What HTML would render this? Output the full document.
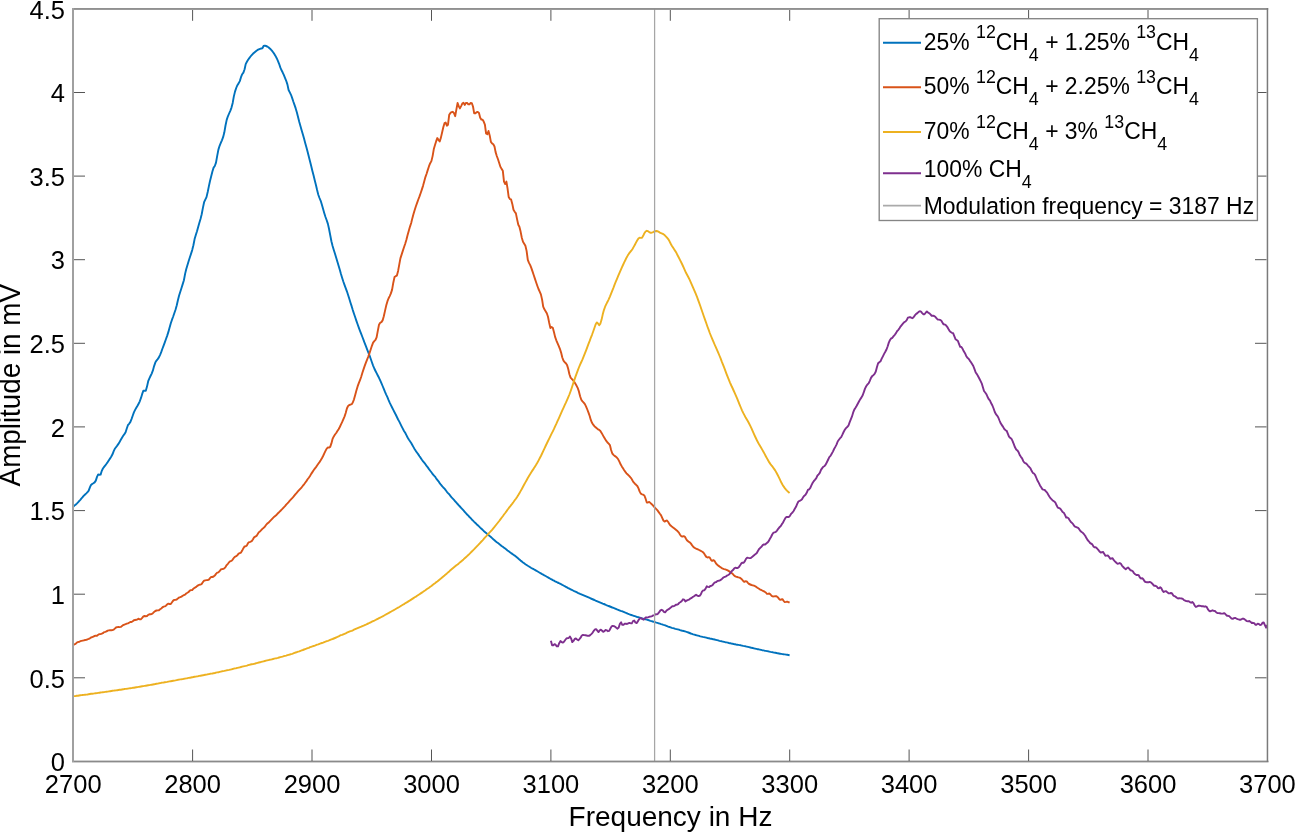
<!DOCTYPE html>
<html><head><meta charset="utf-8"><style>
html,body{margin:0;padding:0;background:#fff;}
body{width:1295px;height:832px;overflow:hidden;font-family:"Liberation Sans", sans-serif;}
svg{display:block;will-change:transform;}
</style></head><body>
<svg width="1295" height="832" viewBox="0 0 1295 832">
<defs><clipPath id="c"><rect x="73" y="9" width="1195" height="753"/></clipPath></defs>
<g clip-path="url(#c)" fill="none" stroke-width="1.9" stroke-linejoin="round">
<polyline stroke="#0072BD" points="73.2,506.8 74.4,505.6 75.6,504.7 76.8,503.6 78.0,502.4 79.1,501.1 80.3,499.8 81.5,498.4 82.7,497.0 83.9,495.7 85.1,494.5 86.3,493.4 87.5,492.2 88.7,490.6 89.9,487.4 91.0,484.9 92.2,483.9 93.4,483.2 94.6,482.4 95.8,480.6 97.0,476.9 98.2,474.4 99.4,474.8 100.6,474.6 101.8,470.8 102.9,468.5 104.1,466.9 105.3,465.4 106.5,463.8 107.7,462.1 108.9,460.2 110.1,458.4 111.3,456.5 112.5,454.3 113.7,451.2 114.8,448.8 116.0,447.2 117.2,445.6 118.4,443.9 119.6,441.9 120.8,439.8 122.0,437.7 123.2,435.8 124.4,434.1 125.6,432.3 126.7,428.7 127.9,425.2 129.1,423.8 130.3,422.1 131.5,419.1 132.7,415.7 133.9,412.4 135.1,409.9 136.3,407.8 137.5,405.8 138.6,403.7 139.8,401.3 141.0,397.9 142.2,393.9 143.4,390.7 144.6,390.8 145.8,390.8 147.0,386.6 148.2,381.2 149.4,378.3 150.5,376.0 151.7,373.6 152.9,370.4 154.1,366.1 155.3,362.6 156.5,360.6 157.7,359.1 158.9,357.4 160.1,354.8 161.3,351.9 162.4,348.8 163.6,345.6 164.8,342.4 166.0,339.0 167.2,335.6 168.4,331.9 169.6,327.5 170.8,323.2 172.0,319.7 173.2,316.5 174.3,313.2 175.5,309.8 176.7,305.5 177.9,300.3 179.1,295.5 180.3,291.7 181.5,288.0 182.7,284.1 183.9,280.3 185.1,273.9 186.2,269.2 187.4,265.3 188.6,261.3 189.8,257.5 191.0,253.9 192.2,250.1 193.4,245.3 194.6,239.1 195.8,235.0 197.0,231.2 198.1,227.2 199.3,223.1 200.5,218.9 201.7,214.3 202.9,207.9 204.1,202.2 205.3,199.6 206.5,197.1 207.7,192.0 208.9,186.1 210.0,181.0 211.2,176.2 212.4,171.5 213.6,167.6 214.8,166.0 216.0,162.6 217.2,155.8 218.4,149.6 219.6,145.8 220.8,142.9 221.9,140.3 223.1,137.2 224.3,132.6 225.5,125.5 226.7,119.9 227.9,116.3 229.1,113.5 230.3,110.8 231.5,107.6 232.7,102.9 233.8,96.6 235.0,91.6 236.2,88.0 237.4,85.2 238.6,83.4 239.8,81.1 241.0,77.2 242.2,74.2 243.4,72.6 244.6,69.2 245.7,64.1 246.9,61.8 248.1,59.8 249.3,58.1 250.5,56.5 251.7,55.1 252.9,53.8 254.1,52.7 255.3,51.7 256.5,50.7 257.6,49.9 258.8,49.3 260.0,48.8 261.2,48.5 262.4,48.3 263.6,46.0 264.8,45.6 266.0,46.0 267.2,46.5 268.4,47.2 269.5,48.2 270.7,49.3 271.9,50.6 273.1,52.2 274.3,53.9 275.5,55.9 276.7,58.2 277.9,60.8 279.1,63.8 280.3,67.4 281.4,70.0 282.6,72.3 283.8,74.9 285.0,77.8 286.2,80.8 287.4,84.4 288.6,90.0 289.8,92.4 291.0,94.8 292.2,98.1 293.3,101.5 294.5,104.9 295.7,108.4 296.9,112.4 298.1,117.2 299.3,122.0 300.5,126.2 301.7,130.4 302.9,134.5 304.1,138.8 305.2,143.0 306.4,147.3 307.6,151.8 308.8,156.5 310.0,161.3 311.2,166.1 312.4,170.9 313.6,175.6 314.8,180.4 316.0,185.2 317.1,190.0 318.3,194.7 319.5,198.0 320.7,200.8 321.9,204.8 323.1,209.1 324.3,213.2 325.5,217.0 326.7,220.3 327.9,223.9 329.0,228.8 330.2,235.0 331.4,241.2 332.6,245.9 333.8,249.9 335.0,253.8 336.2,257.7 337.4,261.7 338.6,265.7 339.8,269.7 340.9,273.7 342.1,277.7 343.3,281.5 344.5,284.9 345.7,288.1 346.9,291.3 348.1,295.0 349.3,298.8 350.5,302.7 351.7,306.4 352.8,310.1 354.0,313.8 355.2,317.3 356.4,320.9 357.6,324.3 358.8,327.6 360.0,330.8 361.2,333.9 362.4,337.0 363.6,340.1 364.7,343.2 365.9,346.2 367.1,349.3 368.3,352.3 369.5,355.4 370.7,358.8 371.9,362.2 373.1,365.6 374.3,368.5 375.5,371.0 376.6,373.2 377.8,375.5 379.0,377.8 380.2,380.4 381.4,383.2 382.6,386.0 383.8,388.9 385.0,391.9 386.2,394.6 387.4,397.1 388.5,399.9 389.7,402.6 390.9,405.1 392.1,407.5 393.3,409.9 394.5,412.2 395.7,414.5 396.9,417.0 398.1,419.5 399.3,421.6 400.4,423.8 401.6,426.3 402.8,428.7 404.0,431.0 405.2,432.8 406.4,435.1 407.6,437.5 408.8,439.5 410.0,441.2 411.2,443.0 412.3,445.0 413.5,447.1 414.7,449.2 415.9,451.1 417.1,452.7 418.3,454.4 419.5,456.2 420.7,457.9 421.9,459.8 423.1,461.4 424.2,462.7 425.4,464.2 426.6,465.9 427.8,467.4 429.0,469.1 430.2,470.7 431.4,472.3 432.6,474.0 433.8,475.3 435.0,476.6 436.1,478.3 437.3,479.8 438.5,481.3 439.7,483.1 440.9,484.7 442.1,486.1 443.3,487.5 444.5,488.7 445.7,490.2 446.9,491.8 448.0,493.1 449.2,494.2 450.4,495.9 451.6,497.4 452.8,498.6 454.0,499.9 455.2,501.3 456.4,502.7 457.6,504.0 458.8,505.3 459.9,506.5 461.1,507.8 462.3,509.1 463.5,510.4 464.7,511.8 465.9,513.2 467.1,514.5 468.3,515.7 469.5,517.0 470.7,518.2 471.8,519.5 473.0,520.7 474.2,521.9 475.4,523.0 476.6,524.2 477.8,525.3 479.0,526.4 480.2,527.6 481.4,528.7 482.6,529.8 483.7,530.9 484.9,531.9 486.1,532.9 487.3,534.0 488.5,535.0 489.7,536.1 490.9,537.0 492.1,538.1 493.3,539.2 494.5,540.2 495.6,541.2 496.8,542.2 498.0,543.1 499.2,544.0 500.4,544.9 501.6,545.9 502.8,546.8 504.0,547.7 505.2,548.6 506.4,549.5 507.5,550.4 508.7,551.3 509.9,552.2 511.1,553.1 512.3,553.9 513.5,554.8 514.7,555.6 515.9,556.5 517.1,557.5 518.3,558.5 519.4,559.6 520.6,560.6 521.8,561.4 523.0,562.4 524.2,563.3 525.4,564.2 526.6,565.0 527.8,565.8 529.0,566.5 530.2,567.3 531.3,568.0 532.5,568.6 533.7,569.2 534.9,569.9 536.1,570.6 537.3,571.3 538.5,572.0 539.7,572.7 540.9,573.4 542.1,574.1 543.2,574.7 544.4,575.4 545.6,576.0 546.8,576.7 548.0,577.4 549.2,578.1 550.4,578.8 551.6,579.4 552.8,580.1 554.0,580.7 555.1,581.3 556.3,581.9 557.5,582.5 558.7,583.0 559.9,583.6 561.1,584.2 562.3,584.9 563.5,585.5 564.7,586.2 565.9,586.8 567.0,587.4 568.2,588.1 569.4,588.7 570.6,589.3 571.8,589.9 573.0,590.5 574.2,591.1 575.4,591.6 576.6,592.2 577.8,592.8 578.9,593.3 580.1,593.9 581.3,594.4 582.5,594.9 583.7,595.4 584.9,595.9 586.1,596.4 587.3,596.9 588.5,597.4 589.7,597.9 590.8,598.5 592.0,599.0 593.2,599.5 594.4,600.0 595.6,600.6 596.8,601.1 598.0,601.6 599.2,602.1 600.4,602.6 601.6,603.1 602.7,603.6 603.9,604.0 605.1,604.5 606.3,605.1 607.5,605.6 608.7,606.0 609.9,606.5 611.1,607.0 612.3,607.5 613.5,607.9 614.6,608.3 615.8,608.8 617.0,609.4 618.2,609.8 619.4,610.3 620.6,610.8 621.8,611.2 623.0,611.7 624.2,612.2 625.4,612.7 626.5,613.1 627.7,613.7 628.9,614.2 630.1,614.6 631.3,615.0 632.5,615.4 633.7,615.8 634.9,616.2 636.1,616.6 637.3,617.0 638.4,617.2 639.6,617.6 640.8,618.0 642.0,618.3 643.2,618.7 644.4,619.0 645.6,619.3 646.8,619.7 648.0,620.0 649.2,620.4 650.3,620.8 651.5,621.1 652.7,621.5 653.9,621.9 655.1,622.2 656.3,622.6 657.5,622.9 658.7,623.3 659.9,623.7 661.1,624.1 662.2,624.4 663.4,624.8 664.6,625.1 665.8,625.6 667.0,626.1 668.2,626.6 669.4,627.0 670.6,627.4 671.8,627.8 673.0,628.1 674.1,628.4 675.3,628.8 676.5,629.1 677.7,629.4 678.9,629.7 680.1,630.2 681.3,630.5 682.5,630.8 683.7,631.0 684.9,631.3 686.0,631.7 687.2,632.1 688.4,632.5 689.6,633.0 690.8,633.5 692.0,633.9 693.2,634.3 694.4,634.6 695.6,635.0 696.8,635.3 697.9,635.6 699.1,635.9 700.3,636.3 701.5,636.6 702.7,636.9 703.9,637.1 705.1,637.4 706.3,637.7 707.5,638.0 708.7,638.2 709.8,638.5 711.0,638.7 712.2,639.0 713.4,639.3 714.6,639.5 715.8,639.8 717.0,640.1 718.2,640.4 719.4,640.8 720.6,641.1 721.7,641.3 722.9,641.6 724.1,641.9 725.3,642.2 726.5,642.4 727.7,642.7 728.9,643.0 730.1,643.2 731.3,643.5 732.5,643.7 733.6,644.0 734.8,644.2 736.0,644.5 737.2,644.7 738.4,644.9 739.6,645.1 740.8,645.3 742.0,645.6 743.2,645.9 744.4,646.1 745.5,646.3 746.7,646.6 747.9,646.9 749.1,647.2 750.3,647.5 751.5,647.8 752.7,648.0 753.9,648.3 755.1,648.6 756.3,648.9 757.4,649.2 758.6,649.3 759.8,649.6 761.0,649.9 762.2,650.2 763.4,650.4 764.6,650.7 765.8,650.9 767.0,651.1 768.2,651.3 769.3,651.6 770.5,651.9 771.7,652.1 772.9,652.3 774.1,652.6 775.3,652.8 776.5,653.0 777.7,653.3 778.9,653.5 780.1,653.7 781.2,653.9 782.4,654.1 783.6,654.3 784.8,654.4 786.0,654.6 787.2,654.8 788.4,655.0 789.6,655.2"/>
<polyline stroke="#D95319" points="73.2,645.1 74.4,644.3 75.6,643.8 76.8,642.6 78.0,642.0 79.1,641.9 80.3,641.2 81.5,640.9 82.7,640.6 83.9,640.3 85.1,640.0 86.3,639.9 87.5,639.3 88.7,638.9 89.9,638.3 91.0,637.5 92.2,637.1 93.4,636.7 94.6,635.9 95.8,635.6 97.0,635.7 98.2,634.8 99.4,634.1 100.6,634.1 101.8,633.7 102.9,633.2 104.1,632.1 105.3,631.9 106.5,631.4 107.7,630.6 108.9,630.4 110.1,630.2 111.3,630.3 112.5,630.1 113.7,629.7 114.8,628.6 116.0,627.5 117.2,627.1 118.4,626.9 119.6,627.1 120.8,626.9 122.0,626.0 123.2,625.1 124.4,624.6 125.6,624.2 126.7,623.7 127.9,623.4 129.1,622.7 130.3,622.0 131.5,622.0 132.7,621.2 133.9,620.2 135.1,620.0 136.3,619.8 137.5,619.3 138.6,618.7 139.8,619.4 141.0,619.2 142.2,617.9 143.4,616.4 144.6,616.0 145.8,616.2 147.0,616.0 148.2,614.9 149.4,614.3 150.5,614.3 151.7,614.1 152.9,613.2 154.1,611.9 155.3,611.0 156.5,610.5 157.7,610.4 158.9,610.2 160.1,609.2 161.3,608.5 162.4,607.4 163.6,606.6 164.8,606.4 166.0,605.7 167.2,604.3 168.4,603.7 169.6,604.0 170.8,604.0 172.0,602.3 173.2,600.6 174.3,599.9 175.5,599.9 176.7,599.5 177.9,598.4 179.1,597.5 180.3,597.2 181.5,596.6 182.7,595.8 183.9,595.1 185.1,594.6 186.2,593.5 187.4,592.8 188.6,592.0 189.8,590.7 191.0,590.1 192.2,590.1 193.4,588.7 194.6,587.8 195.8,587.2 197.0,586.1 198.1,585.4 199.3,584.7 200.5,584.6 201.7,584.0 202.9,582.1 204.1,580.7 205.3,580.4 206.5,580.1 207.7,580.0 208.9,579.6 210.0,578.1 211.2,576.9 212.4,577.0 213.6,576.5 214.8,575.6 216.0,573.9 217.2,572.7 218.4,572.4 219.6,571.2 220.8,569.5 221.9,569.1 223.1,569.0 224.3,568.4 225.5,567.1 226.7,565.1 227.9,563.8 229.1,562.2 230.3,561.1 231.5,560.8 232.7,559.6 233.8,557.9 235.0,556.8 236.2,556.1 237.4,555.3 238.6,553.6 239.8,553.1 241.0,552.6 242.2,550.6 243.4,548.2 244.6,546.4 245.7,546.3 246.9,545.4 248.1,543.0 249.3,542.1 250.5,541.8 251.7,541.1 252.9,539.5 254.1,537.3 255.3,536.6 256.5,535.9 257.6,534.2 258.8,532.3 260.0,531.5 261.2,530.1 262.4,528.8 263.6,527.9 264.8,526.8 266.0,525.0 267.2,523.6 268.4,522.8 269.5,521.6 270.7,520.3 271.9,519.1 273.1,517.9 274.3,516.7 275.5,515.7 276.7,514.7 277.9,513.3 279.1,512.2 280.3,511.0 281.4,509.8 282.6,508.6 283.8,507.3 285.0,506.1 286.2,504.6 287.4,503.4 288.6,502.1 289.8,500.7 291.0,499.4 292.2,498.1 293.3,496.8 294.5,495.3 295.7,494.0 296.9,492.6 298.1,491.2 299.3,489.9 300.5,488.6 301.7,487.3 302.9,485.7 304.1,484.3 305.2,482.7 306.4,481.1 307.6,479.3 308.8,477.7 310.0,476.0 311.2,473.9 312.4,472.1 313.6,470.3 314.8,468.6 316.0,467.1 317.1,465.5 318.3,463.7 319.5,462.1 320.7,460.3 321.9,458.3 323.1,456.0 324.3,453.4 325.5,450.9 326.7,448.6 327.9,447.5 329.0,447.6 330.2,446.9 331.4,443.4 332.6,438.8 333.8,436.4 335.0,434.5 336.2,433.0 337.4,431.1 338.6,429.2 339.8,427.0 340.9,424.6 342.1,422.2 343.3,419.4 344.5,416.6 345.7,413.0 346.9,408.5 348.1,405.9 349.3,405.0 350.5,404.6 351.7,404.2 352.8,402.5 354.0,399.3 355.2,395.0 356.4,390.5 357.6,386.4 358.8,383.1 360.0,380.2 361.2,376.7 362.4,372.8 363.6,369.1 364.7,365.9 365.9,362.7 367.1,359.6 368.3,356.5 369.5,353.1 370.7,349.5 371.9,345.8 373.1,342.6 374.3,341.1 375.5,339.9 376.6,337.3 377.8,330.8 379.0,324.8 380.2,322.8 381.4,322.1 382.6,320.4 383.8,316.2 385.0,310.9 386.2,305.6 387.4,301.4 388.5,298.5 389.7,296.1 390.9,293.4 392.1,289.6 393.3,282.7 394.5,277.1 395.7,276.2 396.9,275.6 398.1,270.9 399.3,264.3 400.4,258.4 401.6,254.6 402.8,250.9 404.0,247.3 405.2,243.7 406.4,239.7 407.6,235.1 408.8,230.8 410.0,226.6 411.2,223.0 412.3,218.4 413.5,214.1 414.7,210.1 415.9,206.3 417.1,202.9 418.3,199.5 419.5,196.4 420.7,193.0 421.9,189.4 423.1,185.6 424.2,181.6 425.4,177.1 426.6,173.7 427.8,169.9 429.0,166.2 430.2,163.2 431.4,161.1 432.6,156.1 433.8,149.1 435.0,145.1 436.1,141.4 437.3,138.1 438.5,139.9 439.7,141.5 440.9,137.6 442.1,132.5 443.3,127.3 444.5,123.2 445.7,122.6 446.9,125.7 448.0,124.7 449.2,114.8 450.4,113.1 451.6,112.1 452.8,111.8 454.0,113.2 455.2,116.2 456.4,109.4 457.6,103.0 458.8,106.4 459.9,108.4 461.1,106.1 462.3,103.6 463.5,102.7 464.7,104.9 465.9,103.0 467.1,102.9 468.3,104.3 469.5,104.3 470.7,102.9 471.8,103.1 473.0,106.5 474.2,113.4 475.4,113.2 476.6,112.2 477.8,111.9 479.0,112.9 480.2,117.8 481.4,119.6 482.6,119.7 483.7,121.6 484.9,124.6 486.1,133.5 487.3,134.2 488.5,131.0 489.7,135.4 490.9,141.9 492.1,143.4 493.3,144.3 494.5,146.5 495.6,152.1 496.8,156.0 498.0,159.3 499.2,163.0 500.4,166.8 501.6,168.9 502.8,170.7 504.0,181.7 505.2,184.1 506.4,181.6 507.5,188.2 508.7,197.1 509.9,199.1 511.1,199.4 512.3,203.9 513.5,209.8 514.7,211.7 515.9,213.4 517.1,219.4 518.3,224.8 519.4,226.8 520.6,231.6 521.8,237.8 523.0,241.8 524.2,243.7 525.4,245.7 526.6,250.9 527.8,259.8 529.0,262.9 530.2,265.1 531.3,267.9 532.5,271.4 533.7,275.0 534.9,278.6 536.1,282.2 537.3,285.7 538.5,289.0 539.7,291.6 540.9,294.4 542.1,299.6 543.2,306.6 544.4,309.3 545.6,311.2 546.8,313.3 548.0,316.7 549.2,322.9 550.4,328.0 551.6,327.0 552.8,327.7 554.0,332.2 555.1,336.9 556.3,340.3 557.5,343.1 558.7,345.9 559.9,348.8 561.1,352.6 562.3,357.5 563.5,360.6 564.7,362.2 565.9,363.2 567.0,364.9 568.2,368.7 569.4,374.2 570.6,377.6 571.8,379.0 573.0,380.1 574.2,381.8 575.4,383.8 576.6,385.8 577.8,388.2 578.9,391.4 580.1,396.3 581.3,399.7 582.5,401.4 583.7,402.7 584.9,404.2 586.1,406.6 587.3,409.5 588.5,412.6 589.7,416.0 590.8,419.9 592.0,422.8 593.2,424.7 594.4,426.2 595.6,427.2 596.8,428.3 598.0,429.3 599.2,429.9 600.4,431.0 601.6,432.9 602.7,434.9 603.9,437.1 605.1,439.0 606.3,440.9 607.5,442.5 608.7,443.7 609.9,445.1 611.1,450.0 612.3,453.5 613.5,454.8 614.6,455.9 615.8,456.6 617.0,457.7 618.2,459.3 619.4,461.7 620.6,464.3 621.8,466.4 623.0,468.3 624.2,470.2 625.4,471.9 626.5,473.3 627.7,474.5 628.9,475.7 630.1,477.0 631.3,478.4 632.5,480.5 633.7,482.4 634.9,483.7 636.1,484.8 637.3,486.0 638.4,488.2 639.6,491.4 640.8,493.6 642.0,494.3 643.2,494.7 644.4,495.5 645.6,498.7 646.8,502.5 648.0,502.5 649.2,501.9 650.3,502.9 651.5,504.0 652.7,505.2 653.9,506.5 655.1,507.8 656.3,509.1 657.5,510.4 658.7,512.1 659.9,513.8 661.1,515.4 662.2,517.9 663.4,520.5 664.6,521.6 665.8,520.9 667.0,520.5 668.2,522.0 669.4,524.1 670.6,525.6 671.8,526.6 673.0,527.5 674.1,528.3 675.3,529.3 676.5,530.3 677.7,531.3 678.9,532.6 680.1,534.7 681.3,536.3 682.5,536.5 683.7,536.1 684.9,536.8 686.0,538.8 687.2,540.6 688.4,541.6 689.6,542.3 690.8,543.4 692.0,545.1 693.2,546.7 694.4,547.7 695.6,548.4 696.8,549.0 697.9,549.4 699.1,550.0 700.3,550.6 701.5,551.3 702.7,552.0 703.9,553.2 705.1,555.1 706.3,556.9 707.5,557.5 708.7,557.1 709.8,557.6 711.0,559.9 712.2,560.9 713.4,560.1 714.6,561.0 715.8,563.1 717.0,564.6 718.2,565.6 719.4,566.4 720.6,567.3 721.7,568.1 722.9,568.7 724.1,569.1 725.3,569.4 726.5,569.8 727.7,570.4 728.9,571.1 730.1,571.9 731.3,572.8 732.5,573.7 733.6,575.0 734.8,576.1 736.0,576.7 737.2,577.0 738.4,577.4 739.6,577.7 740.8,578.3 742.0,579.5 743.2,580.9 744.4,581.9 745.5,581.2 746.7,581.4 747.9,582.8 749.1,584.0 750.3,584.5 751.5,585.0 752.7,585.3 753.9,585.7 755.1,586.2 756.3,586.9 757.4,587.7 758.6,588.5 759.8,589.3 761.0,589.9 762.2,590.5 763.4,591.1 764.6,591.7 765.8,592.5 767.0,593.9 768.2,593.9 769.3,593.4 770.5,594.5 771.7,595.9 772.9,596.5 774.1,596.4 775.3,596.1 776.5,596.3 777.7,597.2 778.9,598.7 780.1,599.8 781.2,599.5 782.4,599.1 783.6,600.8 784.8,602.1 786.0,601.9 787.2,601.6 788.4,602.1 789.6,602.7"/>
<polyline stroke="#EDB120" points="73.2,696.3 74.4,696.1 75.6,696.0 76.8,695.8 78.0,695.7 79.1,695.5 80.3,695.3 81.5,695.1 82.7,695.0 83.9,694.9 85.1,694.7 86.3,694.6 87.5,694.5 88.7,694.2 89.9,694.0 91.0,693.8 92.2,693.8 93.4,693.6 94.6,693.4 95.8,693.2 97.0,693.1 98.2,692.9 99.4,692.7 100.6,692.5 101.8,692.4 102.9,692.2 104.1,692.1 105.3,691.9 106.5,691.7 107.7,691.6 108.9,691.4 110.1,691.2 111.3,691.0 112.5,690.8 113.7,690.6 114.8,690.5 116.0,690.4 117.2,690.2 118.4,690.0 119.6,689.8 120.8,689.7 122.0,689.5 123.2,689.3 124.4,689.0 125.6,688.9 126.7,688.8 127.9,688.6 129.1,688.4 130.3,688.2 131.5,688.1 132.7,687.8 133.9,687.7 135.1,687.5 136.3,687.3 137.5,687.1 138.6,686.9 139.8,686.7 141.0,686.5 142.2,686.3 143.4,686.1 144.6,685.9 145.8,685.7 147.0,685.5 148.2,685.3 149.4,685.1 150.5,684.9 151.7,684.7 152.9,684.5 154.1,684.3 155.3,684.0 156.5,683.8 157.7,683.6 158.9,683.3 160.1,683.1 161.3,682.8 162.4,682.6 163.6,682.5 164.8,682.3 166.0,682.1 167.2,681.9 168.4,681.6 169.6,681.4 170.8,681.2 172.0,681.0 173.2,680.8 174.3,680.6 175.5,680.4 176.7,680.1 177.9,679.8 179.1,679.6 180.3,679.4 181.5,679.3 182.7,679.1 183.9,678.8 185.1,678.6 186.2,678.4 187.4,678.2 188.6,677.9 189.8,677.8 191.0,677.5 192.2,677.3 193.4,677.0 194.6,676.8 195.8,676.6 197.0,676.4 198.1,676.2 199.3,675.9 200.5,675.7 201.7,675.5 202.9,675.3 204.1,675.0 205.3,674.8 206.5,674.6 207.7,674.3 208.9,674.1 210.0,673.8 211.2,673.6 212.4,673.5 213.6,673.2 214.8,673.0 216.0,672.6 217.2,672.4 218.4,672.3 219.6,671.9 220.8,671.6 221.9,671.3 223.1,671.1 224.3,670.9 225.5,670.6 226.7,670.3 227.9,670.1 229.1,669.9 230.3,669.6 231.5,669.3 232.7,669.0 233.8,668.7 235.0,668.4 236.2,668.2 237.4,667.9 238.6,667.6 239.8,667.3 241.0,667.0 242.2,666.7 243.4,666.4 244.6,666.1 245.7,665.9 246.9,665.6 248.1,665.2 249.3,664.8 250.5,664.5 251.7,664.3 252.9,664.1 254.1,663.8 255.3,663.5 256.5,663.1 257.6,662.8 258.8,662.5 260.0,662.3 261.2,661.9 262.4,661.6 263.6,661.3 264.8,661.0 266.0,660.7 267.2,660.4 268.4,660.1 269.5,659.8 270.7,659.6 271.9,659.3 273.1,659.0 274.3,658.7 275.5,658.4 276.7,658.2 277.9,657.9 279.1,657.5 280.3,657.2 281.4,656.9 282.6,656.6 283.8,656.2 285.0,655.9 286.2,655.6 287.4,655.2 288.6,654.8 289.8,654.5 291.0,654.1 292.2,653.8 293.3,653.4 294.5,652.9 295.7,652.5 296.9,652.1 298.1,651.7 299.3,651.3 300.5,650.8 301.7,650.4 302.9,650.0 304.1,649.5 305.2,649.1 306.4,648.7 307.6,648.2 308.8,647.8 310.0,647.2 311.2,646.8 312.4,646.4 313.6,646.0 314.8,645.6 316.0,645.1 317.1,644.7 318.3,644.3 319.5,643.8 320.7,643.4 321.9,643.0 323.1,642.6 324.3,642.1 325.5,641.7 326.7,641.2 327.9,640.8 329.0,640.4 330.2,639.9 331.4,639.4 332.6,639.0 333.8,638.5 335.0,638.0 336.2,637.5 337.4,636.9 338.6,636.4 339.8,635.7 340.9,635.2 342.1,634.9 343.3,634.3 344.5,633.8 345.7,633.3 346.9,632.7 348.1,632.2 349.3,631.7 350.5,631.2 351.7,630.8 352.8,630.3 354.0,629.7 355.2,629.2 356.4,628.7 357.6,628.2 358.8,627.7 360.0,627.2 361.2,626.7 362.4,626.1 363.6,625.6 364.7,625.1 365.9,624.6 367.1,624.0 368.3,623.5 369.5,622.9 370.7,622.3 371.9,621.7 373.1,621.1 374.3,620.6 375.5,620.0 376.6,619.4 377.8,618.8 379.0,618.2 380.2,617.6 381.4,617.0 382.6,616.4 383.8,615.7 385.0,615.0 386.2,614.3 387.4,613.7 388.5,613.1 389.7,612.4 390.9,611.7 392.1,611.0 393.3,610.4 394.5,609.7 395.7,609.0 396.9,608.3 398.1,607.6 399.3,607.0 400.4,606.3 401.6,605.5 402.8,604.8 404.0,604.1 405.2,603.3 406.4,602.6 407.6,601.9 408.8,601.1 410.0,600.4 411.2,599.6 412.3,598.9 413.5,598.1 414.7,597.3 415.9,596.6 417.1,595.8 418.3,595.0 419.5,594.2 420.7,593.4 421.9,592.6 423.1,591.8 424.2,591.0 425.4,590.2 426.6,589.3 427.8,588.5 429.0,587.7 430.2,586.8 431.4,586.0 432.6,585.0 433.8,584.1 435.0,583.2 436.1,582.3 437.3,581.4 438.5,580.4 439.7,579.4 440.9,578.5 442.1,577.5 443.3,576.5 444.5,575.5 445.7,574.4 446.9,573.4 448.0,572.4 449.2,571.4 450.4,570.3 451.6,569.3 452.8,568.3 454.0,567.3 455.2,566.3 456.4,565.3 457.6,564.4 458.8,563.4 459.9,562.4 461.1,561.4 462.3,560.4 463.5,559.4 464.7,558.3 465.9,557.2 467.1,556.1 468.3,555.0 469.5,553.9 470.7,552.7 471.8,551.5 473.0,550.3 474.2,549.1 475.4,547.8 476.6,546.6 477.8,545.4 479.0,544.1 480.2,542.8 481.4,541.5 482.6,540.3 483.7,539.0 484.9,537.7 486.1,536.4 487.3,535.0 488.5,533.7 489.7,532.4 490.9,531.1 492.1,529.8 493.3,528.3 494.5,526.9 495.6,525.5 496.8,524.0 498.0,522.5 499.2,521.0 500.4,519.4 501.6,517.8 502.8,516.2 504.0,514.5 505.2,513.0 506.4,511.4 507.5,509.8 508.7,508.2 509.9,506.7 511.1,505.1 512.3,503.6 513.5,502.0 514.7,500.3 515.9,498.7 517.1,497.0 518.3,495.1 519.4,493.2 520.6,491.1 521.8,489.0 523.0,486.7 524.2,484.5 525.4,482.4 526.6,480.2 527.8,478.0 529.0,476.0 530.2,474.1 531.3,472.2 532.5,470.4 533.7,468.6 534.9,466.7 536.1,464.8 537.3,462.8 538.5,460.6 539.7,458.3 540.9,456.0 542.1,453.5 543.2,451.1 544.4,448.6 545.6,446.0 546.8,443.5 548.0,441.0 549.2,438.6 550.4,436.1 551.6,433.7 552.8,431.3 554.0,428.9 555.1,426.4 556.3,423.9 557.5,421.2 558.7,418.6 559.9,415.9 561.1,413.1 562.3,410.4 563.5,407.8 564.7,405.2 565.9,402.7 567.0,400.2 568.2,397.4 569.4,394.5 570.6,391.2 571.8,387.7 573.0,384.0 574.2,380.4 575.4,376.9 576.6,373.6 577.8,370.4 578.9,367.5 580.1,364.7 581.3,362.0 582.5,359.3 583.7,356.4 584.9,353.4 586.1,350.3 587.3,347.1 588.5,343.9 589.7,340.9 590.8,337.8 592.0,334.8 593.2,331.5 594.4,328.0 595.6,324.5 596.8,322.4 598.0,323.5 599.2,325.2 600.4,323.6 601.6,319.6 602.7,314.6 603.9,310.1 605.1,306.7 606.3,304.1 607.5,301.8 608.7,299.3 609.9,296.6 611.1,293.6 612.3,290.6 613.5,287.6 614.6,284.6 615.8,281.7 617.0,278.8 618.2,275.9 619.4,273.1 620.6,270.3 621.8,267.6 623.0,265.0 624.2,262.4 625.4,260.0 626.5,257.7 627.7,255.6 628.9,253.7 630.1,252.2 631.3,250.7 632.5,249.0 633.7,246.9 634.9,244.7 636.1,242.4 637.3,240.2 638.4,238.6 639.6,237.7 640.8,237.9 642.0,237.7 643.2,235.8 644.4,233.2 645.6,231.5 646.8,230.8 648.0,231.2 649.2,232.1 650.3,232.7 651.5,232.7 652.7,232.3 653.9,231.7 655.1,231.2 656.3,231.0 657.5,231.2 658.7,231.8 659.9,232.6 661.1,233.2 662.2,233.6 663.4,234.2 664.6,235.1 665.8,236.3 667.0,237.6 668.2,239.1 669.4,241.1 670.6,243.5 671.8,245.7 673.0,247.6 674.1,249.3 675.3,251.1 676.5,253.1 677.7,255.5 678.9,257.8 680.1,260.1 681.3,262.5 682.5,265.0 683.7,267.7 684.9,270.3 686.0,272.8 687.2,275.0 688.4,277.3 689.6,279.7 690.8,282.3 692.0,285.1 693.2,287.9 694.4,290.7 695.6,293.4 696.8,296.3 697.9,299.4 699.1,302.6 700.3,306.0 701.5,309.5 702.7,313.0 703.9,316.5 705.1,319.9 706.3,323.3 707.5,326.7 708.7,329.9 709.8,333.0 711.0,336.0 712.2,338.9 713.4,341.7 714.6,344.5 715.8,347.2 717.0,349.9 718.2,352.7 719.4,355.5 720.6,358.3 721.7,361.3 722.9,364.3 724.1,367.4 725.3,370.6 726.5,373.8 727.7,376.9 728.9,379.9 730.1,382.8 731.3,385.5 732.5,388.0 733.6,390.5 734.8,393.1 736.0,395.8 737.2,398.6 738.4,401.6 739.6,404.6 740.8,407.5 742.0,410.3 743.2,412.9 744.4,415.1 745.5,417.2 746.7,419.3 747.9,421.3 749.1,423.5 750.3,425.9 751.5,428.4 752.7,431.2 753.9,433.9 755.1,436.5 756.3,439.0 757.4,441.3 758.6,443.5 759.8,445.5 761.0,447.5 762.2,449.6 763.4,451.7 764.6,453.9 765.8,456.2 767.0,458.4 768.2,460.5 769.3,462.4 770.5,464.1 771.7,465.7 772.9,467.2 774.1,468.9 775.3,470.6 776.5,472.7 777.7,475.0 778.9,477.4 780.1,479.9 781.2,482.3 782.4,484.5 783.6,486.4 784.8,488.1 786.0,489.6 787.2,490.9 788.4,492.0 789.6,493.0"/>
<polyline stroke="#7E2F8E" points="550.9,640.8 552.1,645.2 553.3,645.2 554.5,644.2 555.6,644.7 556.8,646.4 558.0,646.3 559.2,643.2 560.4,641.1 561.6,642.1 562.8,642.6 564.0,641.8 565.2,640.0 566.4,638.5 567.5,638.1 568.7,638.0 569.9,636.5 571.1,638.4 572.3,642.1 573.5,640.9 574.7,639.0 575.9,638.5 577.1,639.5 578.3,640.3 579.4,639.1 580.6,637.7 581.8,635.5 583.0,634.9 584.2,635.1 585.4,635.3 586.6,635.5 587.8,635.8 589.0,635.9 590.2,635.1 591.3,634.1 592.5,632.8 593.7,630.9 594.9,629.5 596.1,629.2 597.3,630.7 598.5,632.1 599.7,630.3 600.9,629.7 602.1,630.8 603.2,631.8 604.4,631.2 605.6,630.0 606.8,630.3 608.0,631.2 609.2,630.9 610.4,628.5 611.6,626.4 612.8,625.9 614.0,626.1 615.1,626.8 616.3,627.8 617.5,628.7 618.7,627.5 619.9,623.8 621.1,622.3 622.3,624.8 623.5,624.9 624.7,623.6 625.9,623.7 627.0,624.0 628.2,623.4 629.4,622.9 630.6,623.2 631.8,623.4 633.0,621.1 634.2,620.5 635.4,622.5 636.6,623.1 637.8,621.4 638.9,619.5 640.1,618.3 641.3,618.2 642.5,619.2 643.7,619.7 644.9,618.2 646.1,617.3 647.3,617.6 648.5,617.2 649.7,616.6 650.8,616.5 652.0,616.2 653.2,615.4 654.4,615.1 655.6,614.3 656.8,614.4 658.0,613.7 659.2,612.2 660.4,610.4 661.6,609.8 662.7,610.3 663.9,611.8 665.1,612.3 666.3,610.9 667.5,609.8 668.7,609.2 669.9,608.2 671.1,607.3 672.3,606.1 673.5,606.2 674.6,605.8 675.8,604.6 677.0,604.7 678.2,604.1 679.4,602.7 680.6,602.0 681.8,601.0 683.0,599.3 684.2,599.6 685.4,601.4 686.5,600.7 687.7,600.1 688.9,599.7 690.1,598.7 691.3,598.2 692.5,597.1 693.7,596.5 694.9,595.6 696.1,594.8 697.3,595.6 698.4,596.0 699.6,595.8 700.8,594.3 702.0,591.7 703.2,590.4 704.4,590.2 705.6,588.6 706.8,586.3 708.0,586.9 709.2,587.1 710.3,586.0 711.5,585.8 712.7,584.9 713.9,583.2 715.1,582.3 716.3,582.0 717.5,580.9 718.7,580.8 719.9,580.4 721.1,579.6 722.2,578.7 723.4,577.5 724.6,576.9 725.8,576.6 727.0,575.6 728.2,575.0 729.4,574.2 730.6,572.7 731.8,571.1 733.0,570.1 734.1,568.6 735.3,567.7 736.5,568.0 737.7,568.0 738.9,567.1 740.1,565.3 741.3,563.4 742.5,562.6 743.7,562.8 744.9,561.1 746.0,558.9 747.2,557.6 748.4,557.9 749.6,558.1 750.8,558.0 752.0,557.1 753.2,556.0 754.4,555.0 755.6,554.1 756.8,553.0 757.9,551.0 759.1,549.0 760.3,547.8 761.5,546.8 762.7,545.1 763.9,544.4 765.1,544.6 766.3,543.6 767.5,542.6 768.7,541.1 769.8,539.0 771.0,537.0 772.2,534.5 773.4,532.7 774.6,532.4 775.8,531.9 777.0,530.6 778.2,528.8 779.4,527.3 780.6,526.2 781.7,524.4 782.9,522.7 784.1,520.4 785.3,518.2 786.5,516.9 787.7,517.0 788.9,517.0 790.1,515.6 791.3,513.6 792.5,512.5 793.6,511.0 794.8,508.8 796.0,506.8 797.2,503.9 798.4,501.5 799.6,500.9 800.8,500.2 802.0,499.2 803.2,497.1 804.4,495.7 805.5,494.8 806.7,492.8 807.9,489.9 809.1,489.3 810.3,487.9 811.5,485.1 812.7,482.8 813.9,481.0 815.1,479.7 816.3,478.2 817.4,475.7 818.6,474.3 819.8,472.8 821.0,469.9 822.2,468.1 823.4,466.7 824.6,466.0 825.8,464.4 827.0,462.0 828.2,459.5 829.3,457.1 830.5,455.9 831.7,453.8 832.9,451.6 834.1,449.0 835.3,446.9 836.5,444.6 837.7,441.5 838.9,439.8 840.1,438.2 841.2,437.1 842.4,434.7 843.6,432.0 844.8,429.8 846.0,428.1 847.2,427.0 848.4,425.7 849.6,422.4 850.8,419.4 852.0,416.4 853.1,412.7 854.3,409.6 855.5,407.8 856.7,405.8 857.9,403.5 859.1,401.2 860.3,399.1 861.5,397.4 862.7,395.2 863.9,391.9 865.0,388.6 866.2,386.3 867.4,384.5 868.6,383.4 869.8,380.8 871.0,377.9 872.2,376.1 873.4,375.2 874.6,373.9 875.8,371.5 876.9,367.3 878.1,363.3 879.3,362.2 880.5,361.3 881.7,358.7 882.9,356.3 884.1,353.9 885.3,351.8 886.5,349.5 887.7,346.2 888.8,342.6 890.0,340.0 891.2,338.4 892.4,337.8 893.6,336.1 894.8,334.8 896.0,333.1 897.2,331.0 898.4,329.8 899.6,328.1 900.7,326.3 901.9,324.8 903.1,323.4 904.3,322.1 905.5,321.5 906.7,320.1 907.9,317.7 909.1,317.3 910.3,317.2 911.5,317.8 912.6,318.2 913.8,316.9 915.0,315.2 916.2,313.9 917.4,313.1 918.6,311.9 919.8,311.2 921.0,311.6 922.2,313.1 923.4,314.2 924.5,314.3 925.7,312.7 926.9,311.5 928.1,312.6 929.3,313.3 930.5,314.4 931.7,315.9 932.9,315.6 934.1,316.0 935.3,316.8 936.4,318.1 937.6,319.5 938.8,319.6 940.0,319.9 941.2,320.5 942.4,322.4 943.6,324.4 944.8,324.5 946.0,325.3 947.2,326.8 948.3,328.8 949.5,330.8 950.7,332.0 951.9,332.8 953.1,333.2 954.3,336.2 955.5,339.2 956.7,340.0 957.9,340.9 959.1,344.2 960.2,346.9 961.4,347.0 962.6,348.8 963.8,351.3 965.0,353.2 966.2,355.9 967.4,357.8 968.6,358.7 969.8,360.6 971.0,362.3 972.1,364.1 973.3,366.0 974.5,369.2 975.7,372.5 976.9,374.1 978.1,376.3 979.3,378.5 980.5,380.9 981.7,383.3 982.9,387.2 984.0,391.0 985.2,392.5 986.4,394.2 987.6,397.0 988.8,399.2 990.0,400.7 991.2,403.3 992.4,405.5 993.6,408.5 994.8,412.0 995.9,414.2 997.1,415.6 998.3,417.5 999.5,420.5 1000.7,423.3 1001.9,425.1 1003.1,426.9 1004.3,429.0 1005.5,430.2 1006.7,430.9 1007.8,433.6 1009.0,436.6 1010.2,437.9 1011.4,438.7 1012.6,441.1 1013.8,444.2 1015.0,447.3 1016.2,449.5 1017.4,450.4 1018.6,452.2 1019.7,455.0 1020.9,456.8 1022.1,458.3 1023.3,461.2 1024.5,462.8 1025.7,463.2 1026.9,464.2 1028.1,465.8 1029.3,467.0 1030.5,468.4 1031.6,470.8 1032.8,472.9 1034.0,473.5 1035.2,475.1 1036.4,478.0 1037.6,480.8 1038.8,482.9 1040.0,485.4 1041.2,487.3 1042.4,489.3 1043.5,489.7 1044.7,490.0 1045.9,491.3 1047.1,492.6 1048.3,494.8 1049.5,496.8 1050.7,498.4 1051.9,499.6 1053.1,500.8 1054.3,501.5 1055.4,502.6 1056.6,505.3 1057.8,507.6 1059.0,508.0 1060.2,508.6 1061.4,510.3 1062.6,512.0 1063.8,512.8 1065.0,514.9 1066.2,517.6 1067.3,517.5 1068.5,518.2 1069.7,520.2 1070.9,522.1 1072.1,523.0 1073.3,524.4 1074.5,526.3 1075.7,526.8 1076.9,527.3 1078.1,527.8 1079.2,529.2 1080.4,531.0 1081.6,532.0 1082.8,532.8 1084.0,534.2 1085.2,535.8 1086.4,538.1 1087.6,540.0 1088.8,541.3 1090.0,542.9 1091.1,543.6 1092.3,544.4 1093.5,546.5 1094.7,547.4 1095.9,547.3 1097.1,548.5 1098.3,549.9 1099.5,551.5 1100.7,552.5 1101.9,552.3 1103.0,551.9 1104.2,553.7 1105.4,555.7 1106.6,555.6 1107.8,555.5 1109.0,556.8 1110.2,558.7 1111.4,558.5 1112.6,558.3 1113.8,560.2 1114.9,561.3 1116.1,562.5 1117.3,563.7 1118.5,563.6 1119.7,563.0 1120.9,563.8 1122.1,565.8 1123.3,567.0 1124.5,568.3 1125.7,569.2 1126.8,568.2 1128.0,567.5 1129.2,568.6 1130.4,570.3 1131.6,570.5 1132.8,571.3 1134.0,573.1 1135.2,574.2 1136.4,575.0 1137.6,574.9 1138.7,575.2 1139.9,577.5 1141.1,578.6 1142.3,578.2 1143.5,579.5 1144.7,581.5 1145.9,582.0 1147.1,582.2 1148.3,582.3 1149.5,582.0 1150.6,582.1 1151.8,583.2 1153.0,584.5 1154.2,585.8 1155.4,585.8 1156.6,586.3 1157.8,588.0 1159.0,588.4 1160.2,587.3 1161.4,588.3 1162.5,590.7 1163.7,592.0 1164.9,591.4 1166.1,591.1 1167.3,592.3 1168.5,593.2 1169.7,593.4 1170.9,593.0 1172.1,593.5 1173.3,595.5 1174.4,596.2 1175.6,596.7 1176.8,597.8 1178.0,598.5 1179.2,598.1 1180.4,598.4 1181.6,598.5 1182.8,598.9 1184.0,600.1 1185.2,600.6 1186.3,601.1 1187.5,601.3 1188.7,601.2 1189.9,602.1 1191.1,602.7 1192.3,602.0 1193.5,603.1 1194.7,605.6 1195.9,607.0 1197.1,606.4 1198.2,605.8 1199.4,605.7 1200.6,605.9 1201.8,606.3 1203.0,606.2 1204.2,606.7 1205.4,606.3 1206.6,606.8 1207.8,609.1 1209.0,610.7 1210.1,611.3 1211.3,610.8 1212.5,610.3 1213.7,610.9 1214.9,611.0 1216.1,612.2 1217.3,613.0 1218.5,613.1 1219.7,613.3 1220.9,613.5 1222.0,613.6 1223.2,613.5 1224.4,613.1 1225.6,614.4 1226.8,615.7 1228.0,615.8 1229.2,616.2 1230.4,617.4 1231.6,618.6 1232.8,618.8 1233.9,618.2 1235.1,617.9 1236.3,618.5 1237.5,619.1 1238.7,619.4 1239.9,619.9 1241.1,619.5 1242.3,618.8 1243.5,618.7 1244.7,619.3 1245.8,620.4 1247.0,621.1 1248.2,621.4 1249.4,621.0 1250.6,621.9 1251.8,623.0 1253.0,622.8 1254.2,623.1 1255.4,624.8 1256.6,624.7 1257.7,623.6 1258.9,624.1 1260.1,625.0 1261.3,624.7 1262.5,622.7 1263.7,622.5 1264.9,625.1 1266.1,627.7 1267.3,625.0"/>
<line x1="654.6" y1="9" x2="654.6" y2="761" stroke="#a6a6a6" stroke-width="1.25"/>
</g>
<g fill="#a0a0a0">
<rect x="72" y="8" width="1196.2" height="1.9" fill="#909090"/>
<rect x="72" y="760.6" width="1196.5" height="1.8" fill="#8a8a8a"/>
<rect x="72" y="8" width="2" height="754"/>
<rect x="1266.7" y="8" width="1.5" height="754" fill="#7a7a7a"/>
</g>
<g stroke="#555" stroke-width="1">
<line x1="192.6" y1="10" x2="192.6" y2="20.8"/>
<line x1="192.6" y1="761" x2="192.6" y2="749.5"/>
<line x1="312.0" y1="10" x2="312.0" y2="20.8"/>
<line x1="312.0" y1="761" x2="312.0" y2="749.5"/>
<line x1="431.5" y1="10" x2="431.5" y2="20.8"/>
<line x1="431.5" y1="761" x2="431.5" y2="749.5"/>
<line x1="550.9" y1="10" x2="550.9" y2="20.8"/>
<line x1="550.9" y1="761" x2="550.9" y2="749.5"/>
<line x1="670.3" y1="10" x2="670.3" y2="20.8"/>
<line x1="670.3" y1="761" x2="670.3" y2="749.5"/>
<line x1="789.7" y1="10" x2="789.7" y2="20.8"/>
<line x1="789.7" y1="761" x2="789.7" y2="749.5"/>
<line x1="909.1" y1="10" x2="909.1" y2="20.8"/>
<line x1="909.1" y1="761" x2="909.1" y2="749.5"/>
<line x1="1028.6" y1="10" x2="1028.6" y2="20.8"/>
<line x1="1028.6" y1="761" x2="1028.6" y2="749.5"/>
<line x1="1148.0" y1="10" x2="1148.0" y2="20.8"/>
<line x1="1148.0" y1="761" x2="1148.0" y2="749.5"/>
<line x1="74" y1="677.8" x2="85" y2="677.8"/>
<line x1="1266.5" y1="677.8" x2="1255" y2="677.8"/>
<line x1="74" y1="594.2" x2="85" y2="594.2"/>
<line x1="1266.5" y1="594.2" x2="1255" y2="594.2"/>
<line x1="74" y1="510.6" x2="85" y2="510.6"/>
<line x1="1266.5" y1="510.6" x2="1255" y2="510.6"/>
<line x1="74" y1="426.9" x2="85" y2="426.9"/>
<line x1="1266.5" y1="426.9" x2="1255" y2="426.9"/>
<line x1="74" y1="343.3" x2="85" y2="343.3"/>
<line x1="1266.5" y1="343.3" x2="1255" y2="343.3"/>
<line x1="74" y1="259.7" x2="85" y2="259.7"/>
<line x1="1266.5" y1="259.7" x2="1255" y2="259.7"/>
<line x1="74" y1="176.1" x2="85" y2="176.1"/>
<line x1="1266.5" y1="176.1" x2="1255" y2="176.1"/>
<line x1="74" y1="92.5" x2="85" y2="92.5"/>
<line x1="1266.5" y1="92.5" x2="1255" y2="92.5"/>
</g>
<g font-family='"Liberation Sans", sans-serif' font-size="25.5" fill="#000">
<text transform="translate(73.2,793.2) scale(1,1.03)" text-anchor="middle">2700</text>
<text transform="translate(192.6,793.2) scale(1,1.03)" text-anchor="middle">2800</text>
<text transform="translate(312.0,793.2) scale(1,1.03)" text-anchor="middle">2900</text>
<text transform="translate(431.5,793.2) scale(1,1.03)" text-anchor="middle">3000</text>
<text transform="translate(550.9,793.2) scale(1,1.03)" text-anchor="middle">3100</text>
<text transform="translate(670.3,793.2) scale(1,1.03)" text-anchor="middle">3200</text>
<text transform="translate(789.7,793.2) scale(1,1.03)" text-anchor="middle">3300</text>
<text transform="translate(909.1,793.2) scale(1,1.03)" text-anchor="middle">3400</text>
<text transform="translate(1028.6,793.2) scale(1,1.03)" text-anchor="middle">3500</text>
<text transform="translate(1148.0,793.2) scale(1,1.03)" text-anchor="middle">3600</text>
<text transform="translate(1267.4,793.2) scale(1,1.03)" text-anchor="middle">3700</text>
<text transform="translate(65,771.1) scale(1,1.03)" text-anchor="end">0</text>
<text transform="translate(65,687.5) scale(1,1.03)" text-anchor="end">0.5</text>
<text transform="translate(65,603.9) scale(1,1.03)" text-anchor="end">1</text>
<text transform="translate(65,520.2) scale(1,1.03)" text-anchor="end">1.5</text>
<text transform="translate(65,436.6) scale(1,1.03)" text-anchor="end">2</text>
<text transform="translate(65,353.0) scale(1,1.03)" text-anchor="end">2.5</text>
<text transform="translate(65,269.4) scale(1,1.03)" text-anchor="end">3</text>
<text transform="translate(65,185.8) scale(1,1.03)" text-anchor="end">3.5</text>
<text transform="translate(65,102.2) scale(1,1.03)" text-anchor="end">4</text>
<text transform="translate(65,18.6) scale(1,1.03)" text-anchor="end">4.5</text>
</g>
<text x="670.5" y="825.9" text-anchor="middle" font-family='"Liberation Sans", sans-serif' font-size="28" fill="#000">Frequency in Hz</text>
<text transform="translate(20.2,385.2) rotate(-90) scale(1,1.04)" text-anchor="middle" font-family='"Liberation Sans", sans-serif' font-size="27.8" fill="#000">Amplitude in mV</text>
<rect x="879.2" y="18.7" width="378.2" height="201.8" fill="#fff" stroke="#858585" stroke-width="1.35"/>
<line x1="883" y1="42.8" x2="921" y2="42.8" stroke="#0072BD" stroke-width="1.9"/>
<text transform="translate(923.80,49.6) scale(1,1.08)" font-family='"Liberation Sans", sans-serif' font-size="22.9" fill="#000" xml:space="preserve">25% </text>
<text x="976.00" y="38.3" font-family='"Liberation Sans", sans-serif' font-size="17.8" fill="#000">12</text>
<text transform="translate(995.80,49.6) scale(1,1.08)" font-family='"Liberation Sans", sans-serif' font-size="22.9" fill="#000" xml:space="preserve">CH</text>
<text x="1028.87" y="60.8" font-family='"Liberation Sans", sans-serif' font-size="17.8" fill="#000">4</text>
<text transform="translate(1038.77,49.6) scale(1,1.08)" font-family='"Liberation Sans", sans-serif' font-size="22.9" fill="#000" xml:space="preserve"> + 1.25% </text>
<text x="1136.17" y="38.3" font-family='"Liberation Sans", sans-serif' font-size="17.8" fill="#000">13</text>
<text transform="translate(1155.97,49.6) scale(1,1.08)" font-family='"Liberation Sans", sans-serif' font-size="22.9" fill="#000" xml:space="preserve">CH</text>
<text x="1189.04" y="60.8" font-family='"Liberation Sans", sans-serif' font-size="17.8" fill="#000">4</text>
<line x1="883" y1="87.3" x2="921" y2="87.3" stroke="#D95319" stroke-width="1.9"/>
<text transform="translate(923.80,94.0) scale(1,1.08)" font-family='"Liberation Sans", sans-serif' font-size="22.9" fill="#000" xml:space="preserve">50% </text>
<text x="976.00" y="82.7" font-family='"Liberation Sans", sans-serif' font-size="17.8" fill="#000">12</text>
<text transform="translate(995.80,94.0) scale(1,1.08)" font-family='"Liberation Sans", sans-serif' font-size="22.9" fill="#000" xml:space="preserve">CH</text>
<text x="1028.87" y="105.2" font-family='"Liberation Sans", sans-serif' font-size="17.8" fill="#000">4</text>
<text transform="translate(1038.77,94.0) scale(1,1.08)" font-family='"Liberation Sans", sans-serif' font-size="22.9" fill="#000" xml:space="preserve"> + 2.25% </text>
<text x="1136.17" y="82.7" font-family='"Liberation Sans", sans-serif' font-size="17.8" fill="#000">13</text>
<text transform="translate(1155.97,94.0) scale(1,1.08)" font-family='"Liberation Sans", sans-serif' font-size="22.9" fill="#000" xml:space="preserve">CH</text>
<text x="1189.04" y="105.2" font-family='"Liberation Sans", sans-serif' font-size="17.8" fill="#000">4</text>
<line x1="883" y1="132.0" x2="921" y2="132.0" stroke="#EDB120" stroke-width="1.9"/>
<text transform="translate(923.80,139.1) scale(1,1.08)" font-family='"Liberation Sans", sans-serif' font-size="22.9" fill="#000" xml:space="preserve">70% </text>
<text x="976.00" y="127.8" font-family='"Liberation Sans", sans-serif' font-size="17.8" fill="#000">12</text>
<text transform="translate(995.80,139.1) scale(1,1.08)" font-family='"Liberation Sans", sans-serif' font-size="22.9" fill="#000" xml:space="preserve">CH</text>
<text x="1028.87" y="150.3" font-family='"Liberation Sans", sans-serif' font-size="17.8" fill="#000">4</text>
<text transform="translate(1038.77,139.1) scale(1,1.08)" font-family='"Liberation Sans", sans-serif' font-size="22.9" fill="#000" xml:space="preserve"> + 3% </text>
<text x="1104.33" y="127.8" font-family='"Liberation Sans", sans-serif' font-size="17.8" fill="#000">13</text>
<text transform="translate(1124.13,139.1) scale(1,1.08)" font-family='"Liberation Sans", sans-serif' font-size="22.9" fill="#000" xml:space="preserve">CH</text>
<text x="1157.21" y="150.3" font-family='"Liberation Sans", sans-serif' font-size="17.8" fill="#000">4</text>
<line x1="883" y1="173.3" x2="921" y2="173.3" stroke="#7E2F8E" stroke-width="1.9"/>
<text transform="translate(923.80,176.6) scale(1,1.08)" font-family='"Liberation Sans", sans-serif' font-size="22.9" fill="#000" xml:space="preserve">100% CH</text>
<text x="1021.81" y="187.8" font-family='"Liberation Sans", sans-serif' font-size="17.8" fill="#000">4</text>
<line x1="883" y1="205.6" x2="921" y2="205.6" stroke="#aaaaaa" stroke-width="1.9"/>
<text transform="translate(923.80,214.2) scale(1,1.08)" font-family='"Liberation Sans", sans-serif' font-size="22.9" fill="#000" xml:space="preserve">Modulation frequency = 3187 Hz</text>
</svg>
</body></html>
